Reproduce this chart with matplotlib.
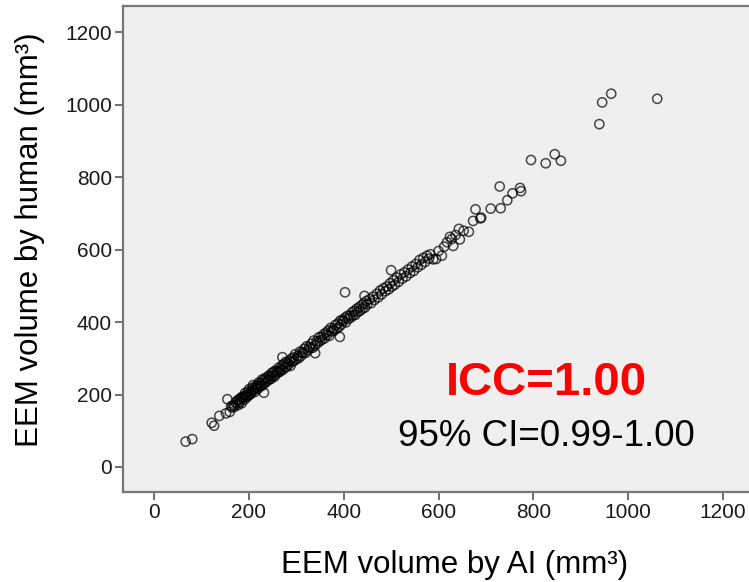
import matplotlib
matplotlib.use("Agg")
import matplotlib.pyplot as plt

plt.rcParams['font.family'] = ['Liberation Sans', 'DejaVu Sans']

# EEM volume (mm3)
# main band of cases along the identity line
ai_band = [160, 163, 165, 168, 170, 172, 175, 176, 178, 180,
           182, 183, 185, 186, 188, 190, 191, 192, 194, 195,
           197, 198, 200, 201, 203, 205, 206, 208, 210, 211,
           213, 214, 216, 218, 219, 221, 223, 224, 226, 228,
           229, 231, 233, 235, 236, 238, 240, 242, 243, 245,
           247, 248, 250, 252, 254, 256, 257, 259, 261, 263,
           265, 267, 268, 270, 272, 274, 276, 278, 280, 282,
           284, 286, 288, 290, 292, 294, 296, 298, 300, 303,
           305, 308, 310, 312, 315, 317, 320, 322, 325, 327,
           330, 332, 335, 337, 340, 343, 345, 348, 350, 353,
           355, 358, 360, 363, 365, 368, 370, 373, 375, 378,
           380, 383, 385, 388, 390, 393, 395, 398, 400, 403,
           405, 408, 410, 413, 415, 418, 420, 423, 425, 428,
           430, 433, 435, 438, 440, 443, 445, 448, 450, 455,
           458, 462, 465, 470, 473, 477, 480, 484, 488, 491,
           495, 498, 502, 505, 508, 512, 516, 520, 524, 528,
           532, 536, 540, 544, 548, 552, 556, 560, 564, 568,
           572, 576, 580]
human_band = [152, 168, 164, 170, 166, 178, 175, 184, 171, 186,
              180, 191, 176, 192, 190, 196, 186, 204, 195, 199,
              193, 208, 199, 215, 200, 209, 204, 219, 212, 214,
              207, 222, 218, 226, 215, 233, 221, 230, 224, 241,
              225, 239, 231, 246, 234, 244, 238, 252, 242, 250,
              243, 259, 251, 262, 249, 266, 255, 264, 261, 274,
              262, 271, 266, 280, 268, 284, 275, 290, 276, 288,
              283, 293, 279, 299, 290, 302, 293, 311, 298, 306,
              300, 318, 306, 316, 314, 326, 315, 333, 322, 331,
              328, 340, 329, 349, 335, 347, 342, 358, 347, 359,
              352, 366, 355, 371, 364, 377, 362, 384, 374, 381,
              376, 392, 382, 396, 386, 404, 393, 406, 402, 412,
              399, 417, 409, 418, 412, 427, 418, 431, 420, 437,
              428, 441, 431, 447, 437, 452, 440, 458, 449, 463,
              452, 470, 461, 478, 468, 487, 476, 493, 485, 498,
              490, 507, 498, 515, 503, 523, 511, 531, 520, 537,
              526, 545, 535, 553, 541, 560, 551, 571, 558, 577,
              566, 583, 575]

# small cases and off-line cases
ai_other = [67, 81, 122, 127, 138, 152, 155, 209, 232, 271, 340, 392, 403, 444, 500]
human_other = [70, 77, 122, 114, 141, 148, 187, 226, 205, 303, 314, 359, 482, 472, 543]

# large cases
ai_large = [583, 589, 595, 600, 607, 612, 618, 624, 628, 631,
            636, 643, 645, 653, 664, 673, 678, 688, 690, 710,
            731, 729, 745, 756, 772, 774, 795, 826, 845, 858,
            939, 945, 964, 1061]
human_large = [587, 573, 574, 596, 583, 608, 620, 635, 629, 610,
               640, 657, 628, 652, 649, 679, 711, 686, 688, 713,
               714, 774, 736, 755, 770, 761, 847, 838, 863, 845,
               946, 1006, 1030, 1016]

tick_values = [0, 200, 400, 600, 800, 1000, 1200]

ai_volume = ai_band + ai_other + ai_large
human_volume = human_band + human_other + human_large

fig = plt.figure(figsize=(7.49, 5.82), dpi=100)
ax = fig.add_axes([123 / 749, 90 / 582, 631 / 749, 486 / 582])
ax.set_facecolor('#efefef')

ax.scatter(ai_volume, human_volume, s=44, facecolors='none',
           edgecolors='black', linewidths=1.1, alpha=0.7)

ax.set_xlim(-65, 1265)
ax.set_ylim(-69, 1272)
ax.set_xticks(tick_values)
ax.set_yticks(tick_values)
ax.tick_params(direction='out', length=6, width=1.2, color='#555555',
               labelsize=15, labelcolor='#1a1a1a', pad=2)
for side in ['left', 'top', 'bottom', 'right']:
    ax.spines[side].set_color('#777777')
    ax.spines[side].set_linewidth(1.6)

fig.text(455 / 749, 1 - 565 / 582, 'EEM volume by AI (mm³)', fontsize=22.5,
         ha='center', va='center')
fig.text(30 / 749, 1 - 240 / 582, 'EEM volume by human (mm³)', fontsize=22.5,
         ha='center', va='center', rotation=90)

fig.text(546 / 749, 1 - 383 / 582, 'ICC=1.00', fontsize=34, fontweight='bold',
         color='#ff0000', ha='center', va='center')
fig.text(546 / 749, 1 - 436 / 582, '95% CI=0.99-1.00', fontsize=26.5,
         color='black', ha='center', va='center')

fig.savefig('out.png', dpi=100)
